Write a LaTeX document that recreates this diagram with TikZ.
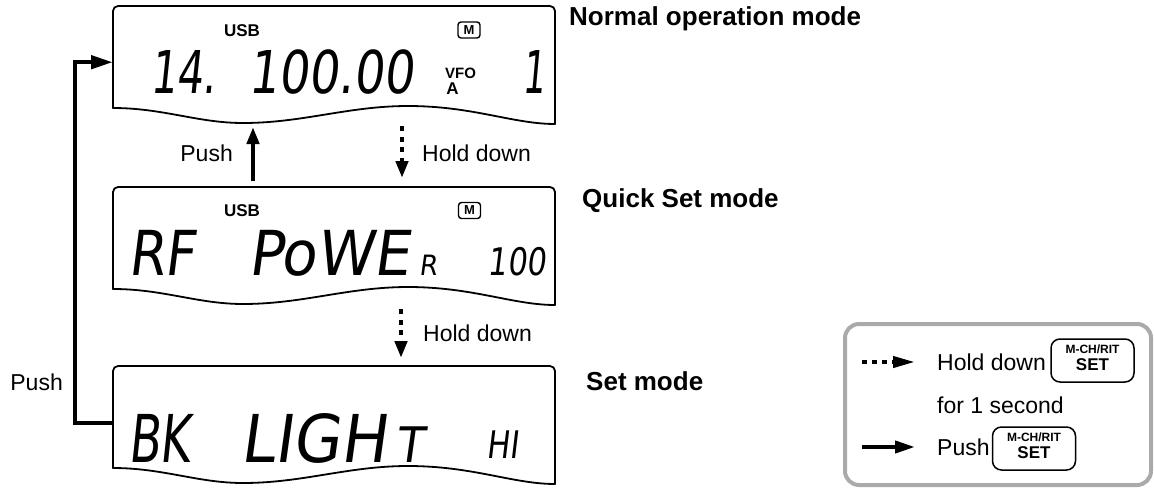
\documentclass[tikz,border=0pt]{standalone}
\usepackage{fontspec}
\setmainfont{Liberation Sans}
\newfontfamily\lcd{DejaVu Sans}[FakeSlant=0.15]
\usetikzlibrary{arrows.meta}
\definecolor{boxgray}{RGB}{170,170,170}
\tikzset{
  panelline/.style={line width=1.8pt, line cap=round, line join=round},
  pushline/.style={line width=4.5pt, -{Triangle[length=17pt,width=12pt]}},
  looppush/.style={line width=4.5pt, -{Triangle[length=22pt,width=13pt]}},
  holdline/.style={line width=4.5pt, dash pattern=on 5pt off 5.5pt, -{Triangle[length=17pt,width=12pt]}},
  legdot/.style={line width=4pt, dash pattern=on 5pt off 5pt, -{Triangle[length=22pt,width=11pt]}},
  legsolid/.style={line width=4pt, -{Triangle[length=20pt,width=12pt]}},
  lbl/.style={font=\fontsize{23}{23}\selectfont, inner sep=0},
  modelbl/.style={font=\bfseries\fontsize{26}{26}\selectfont, inner sep=0},
  lcdtxt/.style={font=\lcd, inner sep=0},
  usbtxt/.style={font=\bfseries\fontsize{17}{17}\selectfont, inner sep=0},
  mbox/.style={draw, rounded corners=3pt, line width=1.4pt, minimum width=22pt, minimum height=16pt, inner sep=0, font=\bfseries\fontsize{13}{13}\selectfont},
  keybox/.style={draw, rounded corners=9pt, line width=1.5pt, minimum width=83pt, minimum height=43pt, inner sep=0},
  keytop/.style={inner sep=0, font=\bfseries\fontsize{12}{12}\selectfont},
  keybot/.style={inner sep=0, font=\bfseries\fontsize{17}{17}\selectfont},
}
\newcommand\lcdpanel[2]{%
  \node[inner sep=0, minimum width=442pt, minimum height=102pt, anchor=north west] (#1) at (113,#2) {};
  \draw[panelline, rounded corners=5pt] (113,#2+102) -- (113,#2) -- (555,#2) -- (555,#2+118);
  \draw[panelline] (113,#2+102) .. controls (163,#2+102) and (198,#2+117) .. (243,#2+117)
     .. controls (303,#2+117) and (348,#2+100) .. (408,#2+100)
     .. controls (473,#2+100) and (513,#2+118) .. (555,#2+118);
}
\newcommand\lcdtext[3]{\scalebox{#1}[1]{\fontsize{#2}{#2}\selectfont #3}}
\begin{document}
\begin{tikzpicture}[x=1pt, y=-1pt]
\useasboundingbox (0,0) rectangle (1154,490);
% panels
\lcdpanel{p1}{6}
\lcdpanel{p2}{187}
\lcdpanel{p3}{366}
% panel 1 contents
\node[usbtxt] (usb1) at (242,31) {USB};
\node[mbox] (m1) at (469,30) {M};
\node[lcdtxt, anchor=base west] (d1a) at (150,93) {\lcdtext{0.7}{59}{14.}};
\node[lcdtxt, anchor=base east] (d1b) at (414,93) {\lcdtext{0.8}{59}{100.00}};
\node[font=\bfseries\fontsize{15}{15}\selectfont, inner sep=0] (vfo) at (460.5,73) {VFO};
\node[font=\bfseries\fontsize{17}{17}\selectfont, inner sep=0] (vfoa) at (452.5,89) {A};
\node[lcdtxt, anchor=base west] (d1c) at (522,93) {\lcdtext{0.6}{59}{1}};
% panel 2 contents
\node[usbtxt] (usb2) at (242,211) {USB};
\node[mbox] (m2) at (469.5,210.5) {M};
\node[lcdtxt, anchor=base west] (d2a) at (128,275) {\lcdtext{0.85}{62}{RF}};
\node[lcdtxt, anchor=base west] (d2b) at (248,275) {\scalebox{0.93}[1]{\fontsize{62}{62}\selectfont PoWE\kern10pt\fontsize{28}{28}\selectfont R}};
\node[lcdtxt, anchor=base east] (d2c) at (546,275) {\lcdtext{0.8}{38}{100}};
% panel 3 contents
\node[lcdtxt, anchor=base west] (d3a) at (128,462) {\lcdtext{0.7}{66}{BK}};
\node[lcdtxt, anchor=base west] (d3b) at (240,462) {\scalebox{0.93}[1]{\fontsize{66}{66}\selectfont LIGH\kern10pt\fontsize{49}{49}\selectfont T}};
\node[lcdtxt, anchor=base west] (d3c) at (486,458) {\lcdtext{0.8}{38}{HI}};
% mode labels
\node[modelbl, anchor=base west] (n1) at (569,25) {Normal operation mode};
\node[modelbl, anchor=base west] (n2) at (582,207) {Quick Set mode};
\node[modelbl, anchor=base west] (n3) at (586,390) {Set mode};
% arrows between panels
\coordinate (u1) at (253,181);
\coordinate (u2) at (253,127);
\draw[pushline] (u1) -- (u2);
\node[lbl, anchor=base east] (pushlbl1) at (233,161) {Push};
\coordinate (h1a) at (402,126);
\coordinate (h1b) at (402,178);
\draw[holdline] (h1a) -- (h1b);
\node[lbl, anchor=base west] (hold1) at (422,161) {Hold down};
\coordinate (h2a) at (401,309);
\coordinate (h2b) at (401,358);
\draw[holdline] (h2a) -- (h2b);
\node[lbl, anchor=base west] (hold2) at (423,341) {Hold down};
% loop
\draw[looppush] ([yshift=-6pt]p3.west) -- ++(-38,0) |- ([yshift=-5pt]p1.west);
\node[lbl, anchor=base east] (pushlbl2) at (63,390) {Push};
% legend
\draw[line width=4pt, boxgray, rounded corners=14pt] (845,324) rectangle (1151,485);
\coordinate (la1) at (862,362);
\coordinate (la2) at (915,362);
\draw[legdot] (la1) -- (la2);
\node[lbl, anchor=base west] (lh) at (937,370) {Hold down};
\node[keybox] (k1) at (1092.5,360.5) {};
\node[keytop] (k1t) at ([yshift=11pt]k1.center) {M-CH/RIT};
\node[keybot] (k1b) at ([yshift=-4pt]k1.center) {SET};
\node[lbl, anchor=base west] (lf) at (937,413) {for 1 second};
\coordinate (lb1) at (862,447);
\coordinate (lb2) at (915,447);
\draw[legsolid] (lb1) -- (lb2);
\node[lbl, anchor=base west] (lp) at (937,455) {Push};
\node[keybox] (k2) at (1034,448.5) {};
\node[keytop] (k2t) at ([yshift=11pt]k2.center) {M-CH/RIT};
\node[keybot] (k2b) at ([yshift=-4pt]k2.center) {SET};
\end{tikzpicture}
\end{document}
